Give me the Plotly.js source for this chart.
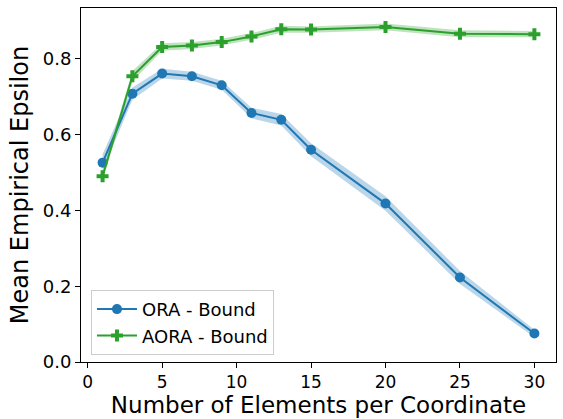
<!DOCTYPE html>
<html>
<head>
<meta charset="utf-8">
<script src="https://cdn.plot.ly/plotly-3.0.1.min.js"></script>
<style>html,body{margin:0;padding:0;background:#fff;}#chart{width:563px;height:419px;}</style>
</head>
<body>
<div id="chart"></div>
<script>
const elements = [1, 3, 5, 7, 9, 11, 13, 15, 20, 25, 30];
const oraMean = [0.526, 0.708, 0.761, 0.754, 0.730, 0.657, 0.639, 0.560, 0.418, 0.223, 0.075];
const oraSpread = [0.022, 0.016, 0.013, 0.012, 0.012, 0.014, 0.015, 0.017, 0.019, 0.017, 0.010];
const aoraMean = [0.490, 0.754, 0.831, 0.835, 0.844, 0.859, 0.878, 0.877, 0.884, 0.866, 0.865];
const aoraSpread = [0.012, 0.014, 0.010, 0.009, 0.009, 0.009, 0.009, 0.008, 0.009, 0.009, 0.008];
const xTicks = [0, 5, 10, 15, 20, 25, 30];
const yTicks = [0.0, 0.2, 0.4, 0.6, 0.8];

const blue = '#1f77b4', green = '#2ca02c';
const lo = (m, s) => m.map((v, i) => v - s[i]);
const hi = (m, s) => m.map((v, i) => v + s[i]);

const traces = [
  {x: elements, y: lo(oraMean, oraSpread), mode: 'lines', line: {width: 0, color: blue}, showlegend: false, hoverinfo: 'skip'},
  {x: elements, y: hi(oraMean, oraSpread), mode: 'lines', line: {width: 0, color: blue}, fill: 'tonexty', fillcolor: 'rgba(31,119,180,0.3)', showlegend: false, hoverinfo: 'skip'},
  {x: elements, y: oraMean, mode: 'lines+markers', name: 'ORA - Bound', line: {color: blue, width: 2}, marker: {symbol: 'circle', size: 10, color: blue}},
  {x: elements, y: lo(aoraMean, aoraSpread), mode: 'lines', line: {width: 0, color: green}, showlegend: false, hoverinfo: 'skip'},
  {x: elements, y: hi(aoraMean, aoraSpread), mode: 'lines', line: {width: 0, color: green}, fill: 'tonexty', fillcolor: 'rgba(44,160,44,0.3)', showlegend: false, hoverinfo: 'skip'},
  {x: elements, y: aoraMean, mode: 'lines+markers', name: 'AORA - Bound', line: {color: green, width: 2}, marker: {symbol: 'cross', size: 10, color: green}}
];

const layout = {
  width: 563, height: 419,
  margin: {l: 81, r: 7, t: 8, b: 57, pad: 0},
  paper_bgcolor: '#fff', plot_bgcolor: '#fff',
  font: {family: 'DejaVu Sans, sans-serif', size: 17, color: '#000'},
  showlegend: true,
  xaxis: {
    range: [-0.45, 31.45], tickvals: xTicks, ticktext: xTicks.map(String),
    ticks: 'outside', ticklen: 5, tickwidth: 1, tickcolor: '#000',
    showline: true, linecolor: '#000', linewidth: 1, mirror: true,
    showgrid: false, zeroline: false,
    tickfont: {size: 17},
    title: {text: 'Number of Elements per Coordinate', font: {size: 23}, standoff: 4}
  },
  yaxis: {
    range: [0, 0.934], tickvals: yTicks, ticktext: yTicks.map(v => v.toFixed(1)),
    ticks: 'outside', ticklen: 5, tickwidth: 1, tickcolor: '#000',
    showline: true, linecolor: '#000', linewidth: 1, mirror: true,
    showgrid: false, zeroline: false,
    tickfont: {size: 18},
    title: {text: 'Mean Empirical Epsilon', font: {size: 24}, standoff: 7}
  },
  legend: {
    x: 0.021, y: 0.02, xanchor: 'left', yanchor: 'bottom', traceorder: 'normal',
    bgcolor: 'rgba(255,255,255,0.8)', bordercolor: '#cccccc', borderwidth: 1,
    font: {size: 18}, tracegroupgap: 0, itemwidth: 40
  }
};

Plotly.newPlot('chart', traces, layout, {displayModeBar: false, staticPlot: true});
</script>
</body>
</html>
